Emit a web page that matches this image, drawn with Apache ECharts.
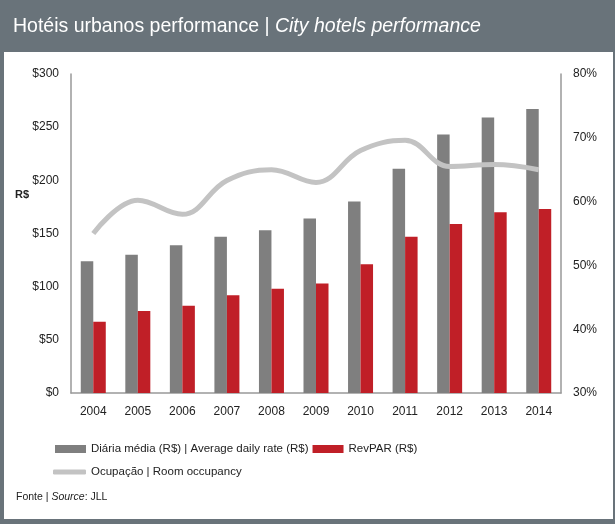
<!DOCTYPE html>
<html>
<head>
<meta charset="utf-8">
<script src="https://cdn.jsdelivr.net/npm/echarts@6/dist/echarts.min.js"></script>
<style>
  html, body { margin: 0; padding: 0; background: #fff; }
  #chart { width: 615px; height: 524px; }
</style>
</head>
<body>
<div id="chart"></div>
<script>
// dados
const years = ['2004', '2005', '2006', '2007', '2008', '2009', '2010', '2011', '2012', '2013', '2014']
const dailyRate = [124, 130, 139, 147, 153, 164, 180, 211, 243, 259, 267]
const revpar = [67, 77, 82, 92, 98, 103, 121, 147, 159, 170, 173]
const occupancy = [55, 60.2, 58, 63.3, 65, 63, 68, 69.6, 65.5, 65.8, 65]

const FONT = "'Liberation Sans Narrow', 'Liberation Sans', Arial, sans-serif"
const chart = echarts.init(document.getElementById('chart'))

const option = {
  animation: false,
  textStyle: { fontFamily: FONT },
  graphic: [
    // moldura cinza + painel branco
    { type: 'rect', z: -10, shape: { x: 0, y: 0, width: 615, height: 524 }, style: { fill: '#69737a' } },
    { type: 'rect', z: -9, shape: { x: 4, y: 52, width: 609, height: 467 }, style: { fill: '#ffffff' } },
    {
      type: 'text', left: 13, top: 17,
      style: {
        text: '{n|Hotéis urbanos performance | }{i|City hotels performance}',
        rich: {
          n: { fontSize: 19.5, fill: '#ffffff', fontFamily: FONT },
          i: { fontSize: 19.5, fill: '#ffffff', fontStyle: 'italic', fontFamily: FONT }
        }
      }
    },
    {
      type: 'text', left: 15, top: 189,
      style: { text: 'R$', fontSize: 11, fontWeight: 'bold', fill: '#222', fontFamily: FONT }
    },
    {
      type: 'text', left: 16, top: 492,
      style: {
        text: '{n|Fonte | }{i|Source}{n|: JLL}',
        rich: {
          n: { fontSize: 10.5, fill: '#222', fontFamily: FONT },
          i: { fontSize: 10.5, fill: '#222', fontStyle: 'italic', fontFamily: FONT }
        }
      }
    }
  ],
  grid: { left: 71, right: 54, top: 74, bottom: 131 },
  legend: [
    {
      data: ['Diária média (R$) | Average daily rate (R$)', 'RevPAR (R$)'],
      left: 50, top: 438,
      itemWidth: 31, itemHeight: 8, itemGap: 4,
      icon: 'rect',
      textStyle: { fontSize: 11.5, color: '#222', fontFamily: FONT }
    },
    {
      data: [{ name: 'Ocupação | Room occupancy', icon: 'roundRect' }],
      left: 48, top: 461,
      itemWidth: 33, itemHeight: 5,
      textStyle: { fontSize: 11.5, color: '#222', fontFamily: FONT }
    }
  ],
  xAxis: {
    type: 'category',
    data: years,
    axisLine: { lineStyle: { color: '#999', width: 1.5 } },
    axisTick: { show: false },
    axisLabel: { color: '#222', fontSize: 12, margin: 13, fontFamily: FONT }
  },
  yAxis: [
    {
      type: 'value', min: 0, max: 300, interval: 50,
      axisLine: { show: true, lineStyle: { color: '#999', width: 1.5 } },
      axisTick: { show: false },
      splitLine: { show: false },
      axisLabel: { color: '#222', fontSize: 12, margin: 12, formatter: v => '$' + v, fontFamily: FONT }
    },
    {
      type: 'value', min: 30, max: 80, interval: 10,
      axisLine: { show: true, lineStyle: { color: '#999', width: 1.5 } },
      axisTick: { show: false },
      splitLine: { show: false },
      axisLabel: { color: '#222', fontSize: 12, margin: 12, formatter: v => v + '%', fontFamily: FONT }
    }
  ],
  series: [
    {
      name: 'Diária média (R$) | Average daily rate (R$)',
      type: 'bar',
      data: dailyRate,
      barWidth: 12.5,
      barGap: '0%',
      itemStyle: { color: '#7f7f7f' }
    },
    {
      name: 'RevPAR (R$)',
      type: 'bar',
      data: revpar,
      barWidth: 12.5,
      itemStyle: { color: '#c01f27' }
    },
    {
      name: 'Ocupação | Room occupancy',
      type: 'line',
      yAxisIndex: 1,
      data: occupancy,
      smooth: 0.4,
      symbol: 'none',
      lineStyle: { color: '#c3c3c3', width: 5 },
      itemStyle: { color: '#c3c3c3' },
      z: 5
    }
  ]
}
chart.setOption(option)
</script>
</body>
</html>
